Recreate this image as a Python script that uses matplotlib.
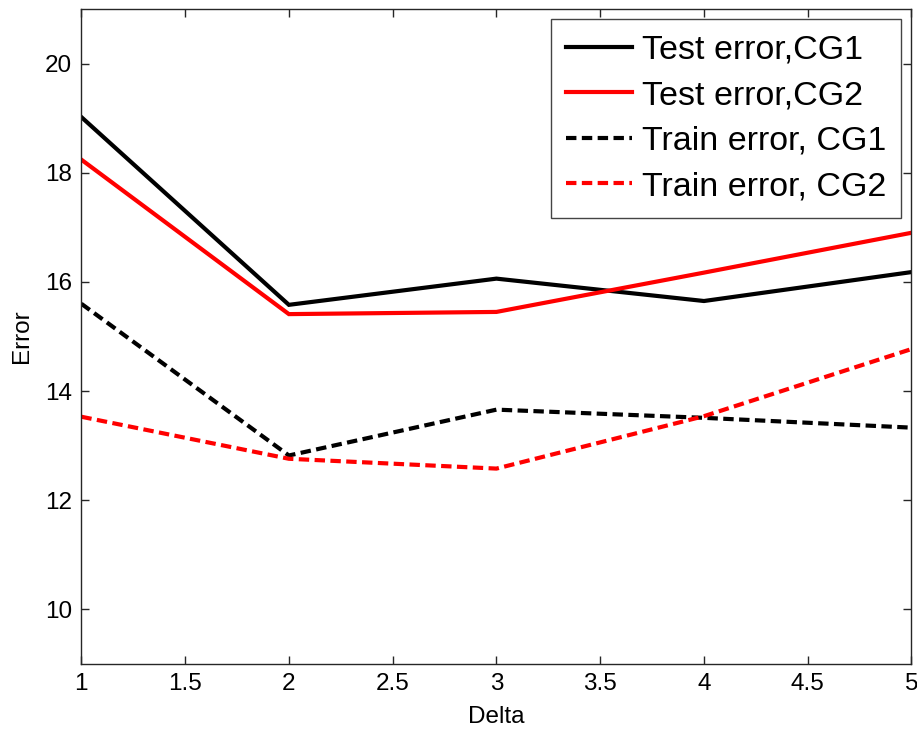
import matplotlib
matplotlib.use("Agg")
import matplotlib.pyplot as plt

delta = [1, 2, 3, 4, 5]
test_cg1 = [19.02, 15.58, 16.06, 15.65, 16.18]
test_cg2 = [18.24, 15.41, 15.45, 16.17, 16.90]
train_cg1 = [15.60, 12.82, 13.66, 13.51, 13.33]
train_cg2 = [13.53, 12.76, 12.58, 13.54, 14.77]

labels = ["Test error,CG1", "Test error,CG2", "Train error, CG1", "Train error, CG2"]
xticks = [1, 1.5, 2, 2.5, 3, 3.5, 4, 4.5, 5]
xticklabels = ["1", "1.5", "2", "2.5", "3", "3.5", "4", "4.5", "5"]
yticks = [10, 12, 14, 16, 18, 20]

plt.rcParams['font.family'] = ['Liberation Sans', 'DejaVu Sans']

fig = plt.figure(figsize=(9.17, 7.30), dpi=100)
ax = fig.add_axes([0.0887, 0.0904, 0.994 - 0.0887, 0.9877 - 0.0904])

lw = 3.0
dash = (2.5, 1.3)
ax.plot(delta, test_cg1, color='black', lw=lw, label=labels[0], solid_joinstyle='miter')
ax.plot(delta, test_cg2, color='#ff0000', lw=lw, label=labels[1], solid_joinstyle='miter')
ax.plot(delta, train_cg1, color='black', lw=lw, ls=(0, dash), label=labels[2])
ax.plot(delta, train_cg2, color='#ff0000', lw=lw, ls=(0, dash), label=labels[3])

ax.set_xlim(1, 5)
ax.set_ylim(9, 21)
ax.set_xticks(xticks)
ax.set_xticklabels(xticklabels)
ax.set_yticks(yticks)
ax.tick_params(direction='in', length=6, width=1, top=True, right=True,
               labelsize=17.5, pad=6.5, color='#262626')
for s in ax.spines.values():
    s.set_linewidth(1.0)
    s.set_color('#262626')

ax.set_xlabel("Delta", fontsize=17.5, labelpad=8)
ax.set_ylabel("Error", fontsize=17.5, labelpad=9)

leg = ax.legend(loc='upper right', fontsize=24.5, frameon=True, fancybox=False,
                edgecolor='#444444', framealpha=1, borderpad=0.45,
                handlelength=1.95, handletextpad=0.27, labelspacing=0.43,
                borderaxespad=0.3)
leg.get_frame().set_linewidth(1.0)

fig.savefig("out.png", dpi=100)
